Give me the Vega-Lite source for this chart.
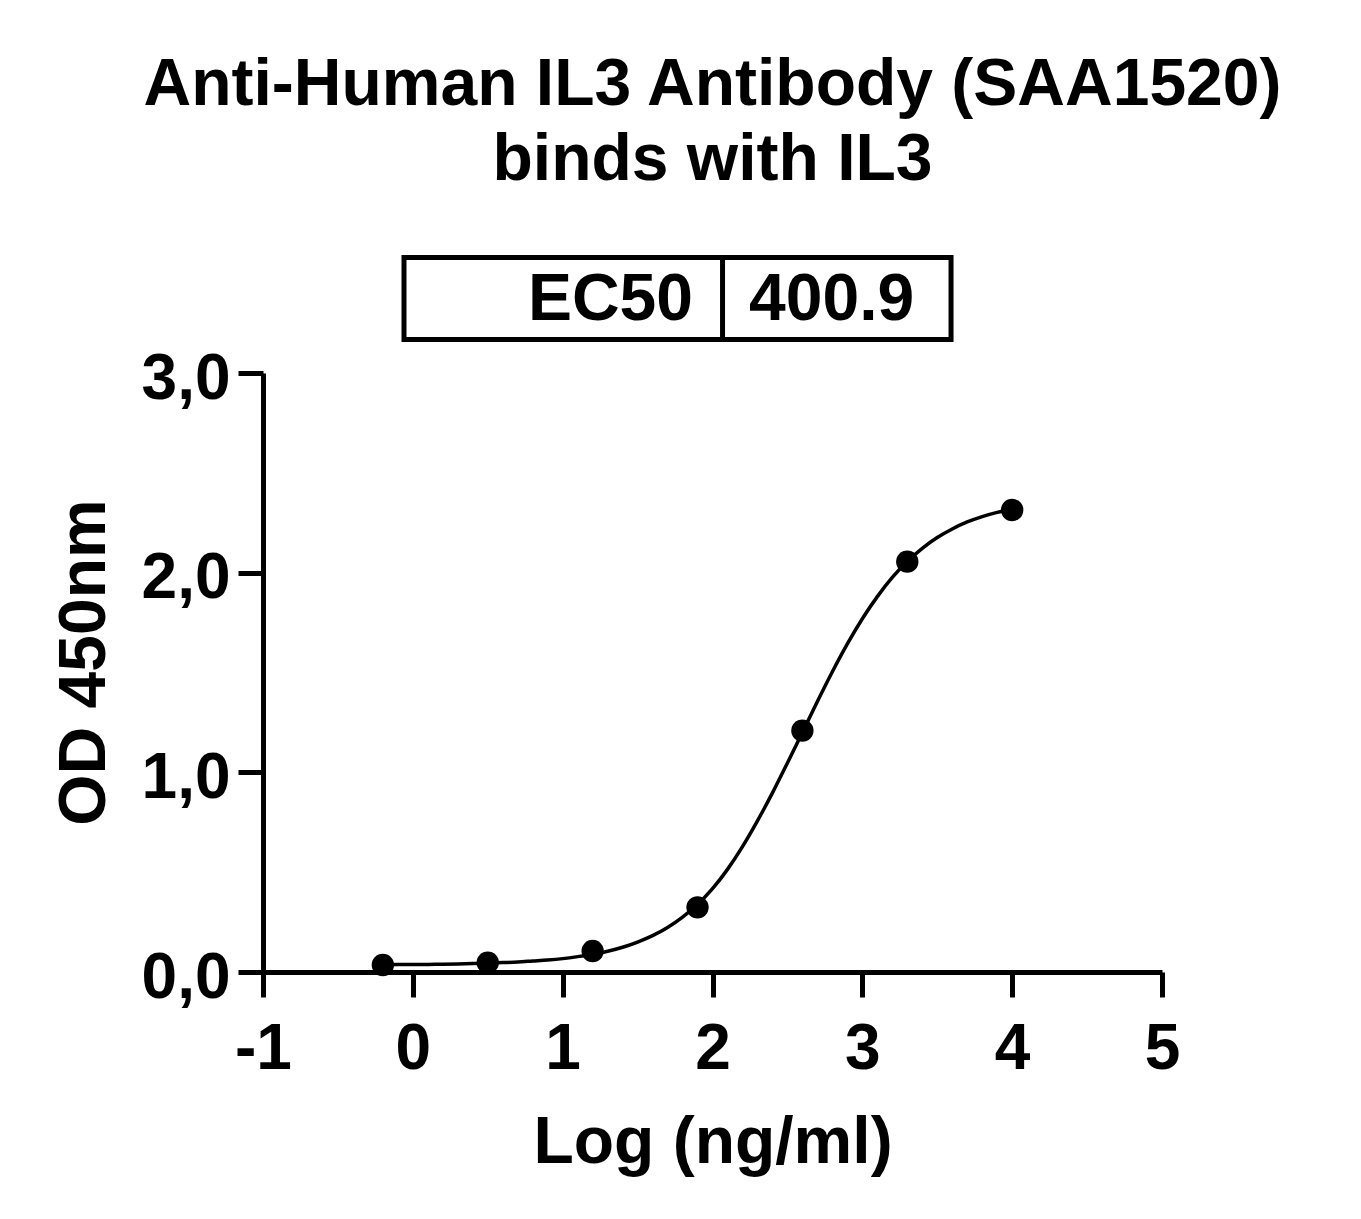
{
  "$schema": "https://vega.github.io/schema/vega-lite/v6.json",
  "autosize": {"type": "none"},
  "padding": {"left": 263, "top": 373, "right": 199, "bottom": 247},
  "width": 899,
  "height": 599,
  "background": "white",
  "config": {
    "view": {"stroke": null},
    "font": "Liberation Sans",
    "axis": {
      "domainColor": "black",
      "domainWidth": 5,
      "tickColor": "black",
      "tickWidth": 5,
      "tickSize": 25,
      "labelFont": "Liberation Sans",
      "labelFontWeight": "bold",
      "labelFontSize": 64,
      "labelColor": "black",
      "titleFont": "Liberation Sans",
      "titleFontWeight": "bold",
      "titleFontSize": 66,
      "titleColor": "black",
      "grid": false,
      "labelOverlap": false,
      "labelFlush": false
    }
  },
  "title": {
    "text": ["Anti-Human IL3 Antibody (SAA1520)", "binds with IL3"],
    "font": "Liberation Sans",
    "fontWeight": "bold",
    "fontSize": 66,
    "lineHeight": 75,
    "anchor": "middle",
    "frame": "group",
    "offset": 61,
    "color": "black"
  },
  "datasets": {
    "curve": [
      {"logc": -0.2, "od": 0.036}, {"logc": -0.1, "od": 0.037}, {"logc": 0.0, "od": 0.037},
      {"logc": 0.1, "od": 0.038}, {"logc": 0.2, "od": 0.039}, {"logc": 0.3, "od": 0.040},
      {"logc": 0.4, "od": 0.042}, {"logc": 0.5, "od": 0.044}, {"logc": 0.6, "od": 0.047},
      {"logc": 0.7, "od": 0.050}, {"logc": 0.8, "od": 0.055}, {"logc": 0.9, "od": 0.060},
      {"logc": 1.0, "od": 0.067}, {"logc": 1.1, "od": 0.077}, {"logc": 1.2, "od": 0.089},
      {"logc": 1.3, "od": 0.104}, {"logc": 1.4, "od": 0.124}, {"logc": 1.5, "od": 0.150},
      {"logc": 1.6, "od": 0.182}, {"logc": 1.7, "od": 0.223}, {"logc": 1.8, "od": 0.275},
      {"logc": 1.9, "od": 0.338}, {"logc": 2.0, "od": 0.417}, {"logc": 2.1, "od": 0.514},
      {"logc": 2.2, "od": 0.628}, {"logc": 2.3, "od": 0.757}, {"logc": 2.4, "od": 0.897},
      {"logc": 2.5, "od": 1.047}, {"logc": 2.6, "od": 1.200}, {"logc": 2.7, "od": 1.355},
      {"logc": 2.8, "od": 1.504}, {"logc": 2.9, "od": 1.643}, {"logc": 3.0, "od": 1.769},
      {"logc": 3.1, "od": 1.880}, {"logc": 3.2, "od": 1.976}, {"logc": 3.3, "od": 2.056},
      {"logc": 3.4, "od": 2.122}, {"logc": 3.5, "od": 2.176}, {"logc": 3.6, "od": 2.219},
      {"logc": 3.7, "od": 2.254}, {"logc": 3.8, "od": 2.281}, {"logc": 3.9, "od": 2.302},
      {"logc": 4.0, "od": 2.319}
    ],
    "points": [
      {"logc": -0.2, "od": 0.035},
      {"logc": 0.5, "od": 0.047},
      {"logc": 1.2, "od": 0.105},
      {"logc": 1.9, "od": 0.324},
      {"logc": 2.6, "od": 1.209},
      {"logc": 3.3, "od": 2.055},
      {"logc": 4.0, "od": 2.314}
    ],
    "ec50": [{"label": "EC50", "value": "400.9"}]
  },
  "layer": [
    {
      "data": {"name": "curve"},
      "mark": {"type": "line", "color": "black", "strokeWidth": 3.5, "interpolate": "monotone"},
      "encoding": {
        "x": {
          "field": "logc",
          "type": "quantitative",
          "title": "Log (ng/ml)",
          "scale": {"domain": [-1, 5], "nice": false, "zero": false},
          "axis": {
            "values": [-1, 0, 1, 2, 3, 4, 5],
            "labelExpr": "'' + datum.value",
            "labelPadding": 20,
            "titleY": 190,
            "titleBaseline": "alphabetic"
          }
        },
        "y": {
          "field": "od",
          "type": "quantitative",
          "title": "OD 450nm",
          "scale": {"domain": [0, 3], "nice": false, "zero": false},
          "axis": {
            "values": [0, 1, 2, 3],
            "labelExpr": "replace(format(datum.value, '.1f'), '.', ',')",
            "labelPadding": 8,
            "labelOffset": 6,
            "titleX": -159,
            "titleY": 289,
            "titleAngle": -90,
            "titleAlign": "center",
            "titleBaseline": "alphabetic"
          }
        }
      }
    },
    {
      "data": {"name": "points"},
      "mark": {"type": "circle", "color": "black", "size": 500, "opacity": 1},
      "encoding": {
        "x": {"field": "logc", "type": "quantitative", "title": "Log (ng/ml)"},
        "y": {"field": "od", "type": "quantitative", "title": "OD 450nm"}
      }
    },
    {
      "data": {"name": "ec50"},
      "mark": {"type": "rect", "fillOpacity": 0, "stroke": "black", "strokeWidth": 5},
      "encoding": {
        "x": {"datum": -0.059, "type": "quantitative", "title": "Log (ng/ml)"},
        "x2": {"datum": 3.592},
        "y": {"datum": 3.578, "type": "quantitative", "title": "OD 450nm"},
        "y2": {"datum": 3.168}
      }
    },
    {
      "data": {"name": "ec50"},
      "mark": {"type": "rule", "color": "black", "strokeWidth": 5},
      "encoding": {
        "x": {"datum": 2.067, "type": "quantitative", "title": "Log (ng/ml)"},
        "y": {"datum": 3.578, "type": "quantitative", "title": "OD 450nm"},
        "y2": {"datum": 3.168}
      }
    },
    {
      "data": {"name": "ec50"},
      "mark": {"type": "text", "align": "right", "baseline": "alphabetic", "font": "Liberation Sans", "fontWeight": "bold", "fontSize": 66, "color": "black"},
      "encoding": {
        "x": {"datum": 1.87, "type": "quantitative", "title": "Log (ng/ml)"},
        "y": {"datum": 3.265, "type": "quantitative", "title": "OD 450nm"},
        "text": {"field": "label"}
      }
    },
    {
      "data": {"name": "ec50"},
      "mark": {"type": "text", "align": "left", "baseline": "alphabetic", "font": "Liberation Sans", "fontWeight": "bold", "fontSize": 66, "color": "black"},
      "encoding": {
        "x": {"datum": 2.244, "type": "quantitative", "title": "Log (ng/ml)"},
        "y": {"datum": 3.265, "type": "quantitative", "title": "OD 450nm"},
        "text": {"field": "value"}
      }
    }
  ]
}
